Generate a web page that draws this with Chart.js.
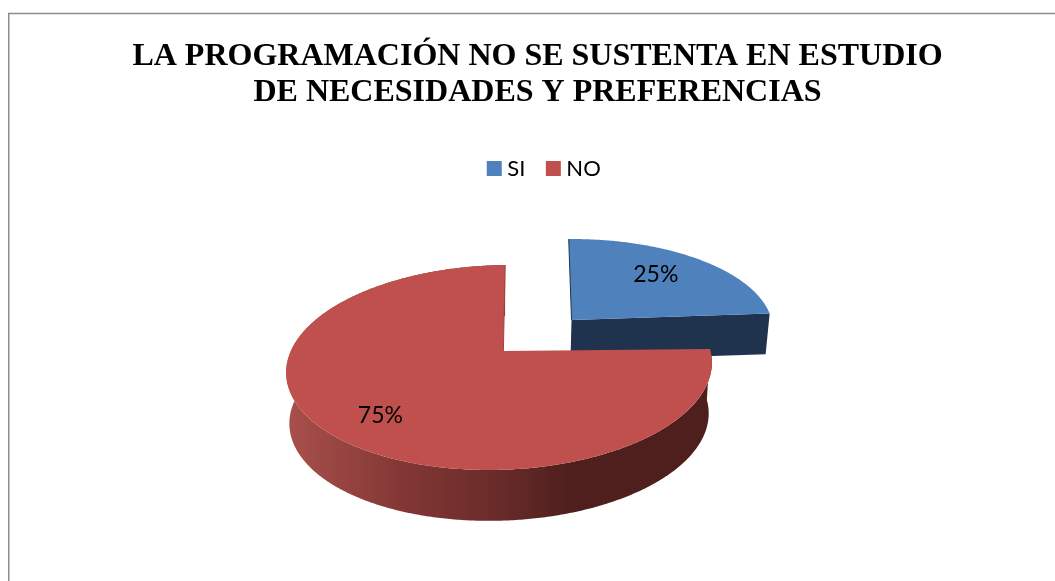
<!DOCTYPE html>
<html><head><meta charset="utf-8">
<script src="https://cdn.jsdelivr.net/npm/chart.js@4/dist/chart.umd.min.js"></script>
<style>html,body{margin:0;padding:0;background:#fff}canvas{display:block}</style>
</head><body><canvas id="c" width="1055" height="581"></canvas>
<script>
const categories = ['SI', 'NO'];
const values = [25, 75];
const colors = ['#4f81bd', '#c0504d'];
const titleLines = ['LA PROGRAMACIÓN NO SE SUSTENTA EN ESTUDIO', 'DE NECESIDADES Y PREFERENCIAS'];

// Perspective view of the pie disc
const VIEW = {cx:500, cy:351, ax:210, ay:99.8, p:0.161, skewX:-6, skewY:-2, baseScale:0.985};
// Per-slice explosion in disc units: rim centre, apex, radius, label anchor, wall depth
const SLICE = [
  {rim:[0.36,-0.37], apex:[0.349,-0.32], r:0.99, label:[0.82,-0.86], wall:'#1f334f', edge:'#1f334f', depth:43, baseAy:99.8},
  {rim:[0,0], apex:[0.016,0], r:1, label:[-0.5,0.58], wall:null, edge:'#a4423f', depth:51, baseAy:91.5}
];

function topPt(u,v){const w=1-VIEW.p*v;return [VIEW.cx+(VIEW.ax*u+VIEW.skewX*v)/w, VIEW.cy+(VIEW.ay*v+VIEW.skewY*u)/w];}
function baseFn(s){return (u,v)=>{const w=1-VIEW.p*v;return [VIEW.cx+VIEW.baseScale*(VIEW.ax*u+VIEW.skewX*v)/w, VIEW.cy+(s.baseAy*v+VIEW.skewY*u+s.depth)/w];};}
function rimPts(s,a0,a1,fn){const n=Math.max(2,Math.ceil(Math.abs(a1-a0)/0.01)),out=[];
  for(let i=0;i<=n;i++){const a=a0+(a1-a0)*i/n;out.push(fn(s.rim[0]+s.r*Math.cos(a),s.rim[1]+s.r*Math.sin(a)));}return out;}
function poly(ctx,pts,fill){ctx.beginPath();pts.forEach((p,i)=>i?ctx.lineTo(p[0],p[1]):ctx.moveTo(p[0],p[1]));ctx.closePath();ctx.fillStyle=fill;ctx.fill();}

const frame = {id:'frame', beforeDraw(chart){const c=chart.ctx;c.save();c.fillStyle='#fff';c.fillRect(0,0,1055,581);
  c.strokeStyle='#8c8c8c';c.lineWidth=1.5;c.beginPath();c.moveTo(8.75,581);c.lineTo(8.75,13.5);c.lineTo(1055,13.5);c.stroke();c.restore();},
  afterLayout(chart){const l=chart.legend;l.left+=9;l.right+=9;}};

const pie3d = {id:'pie3d', beforeDatasetDraw(chart){
  const ctx=chart.ctx, arcs=chart.getDatasetMeta(0).data;
  ctx.save();
  arcs.forEach((arc,i)=>{
    const s=SLICE[i], a0=arc.startAngle, a1=arc.endAngle, col=arc.options.backgroundColor, basePt=baseFn(s);
    if(s.wall){
      const ca=s.apex, rimT=rimPts(s,a1,a1,topPt)[0], rimB=rimPts(s,a1,a1,basePt)[0];
      poly(ctx,[topPt(ca[0],ca[1]),rimT,rimB,basePt(ca[0],ca[1])],s.wall);
    } else {
      const g=ctx.createLinearGradient(290,0,712,0);
      g.addColorStop(0,'#a84f4b');g.addColorStop(0.27,'#823735');g.addColorStop(0.5,'#682b29');g.addColorStop(0.66,'#4f1f1e');g.addColorStop(1,'#4f1f1e');
      poly(ctx,rimPts(s,a0,a1,topPt).concat(rimPts(s,a0,a1,basePt).reverse()),g);
    }
    const apex=topPt(s.apex[0],s.apex[1]), rim=rimPts(s,a0,a1,topPt);
    poly(ctx,[apex].concat(rim),col);
    const e=rim[rim.length-1], st=i===0?rim[0]:e;
    ctx.strokeStyle=s.edge;ctx.lineWidth=1;ctx.beginPath();ctx.moveTo(apex[0],apex[1]);ctx.lineTo(st[0],st[1]);ctx.stroke();
  });
  const total=values.reduce((a,b)=>a+b,0);
  ctx.fillStyle='#000';ctx.font='23px Lato';ctx.textAlign='center';ctx.textBaseline='middle';
  arcs.forEach((arc,i)=>{const p=topPt(SLICE[i].label[0],SLICE[i].label[1]);
    ctx.fillText(Math.round(values[i]/total*100)+'%',p[0],p[1]);});
  ctx.restore();
  return false;
}};

new Chart(document.getElementById('c'),{
  type:'pie',
  data:{labels:categories,datasets:[{data:values,backgroundColor:colors,borderWidth:0}]},
  plugins:[frame,pie3d],
  options:{
    responsive:false,animation:false,
    layout:{padding:{left:20,top:38}},
    plugins:{
      tooltip:{enabled:false},
      title:{display:true,text:titleLines,color:'#000',font:{family:'"Liberation Serif"',size:32,weight:'bold',lineHeight:1.15},padding:{top:0,bottom:20}},
      legend:{display:true,position:'top',labels:{usePointStyle:true,pointStyle:'rect',boxWidth:4,boxHeight:15,color:'#000',font:{family:'Lato',size:22},padding:26}}
    }
  }
});
</script></body></html>
